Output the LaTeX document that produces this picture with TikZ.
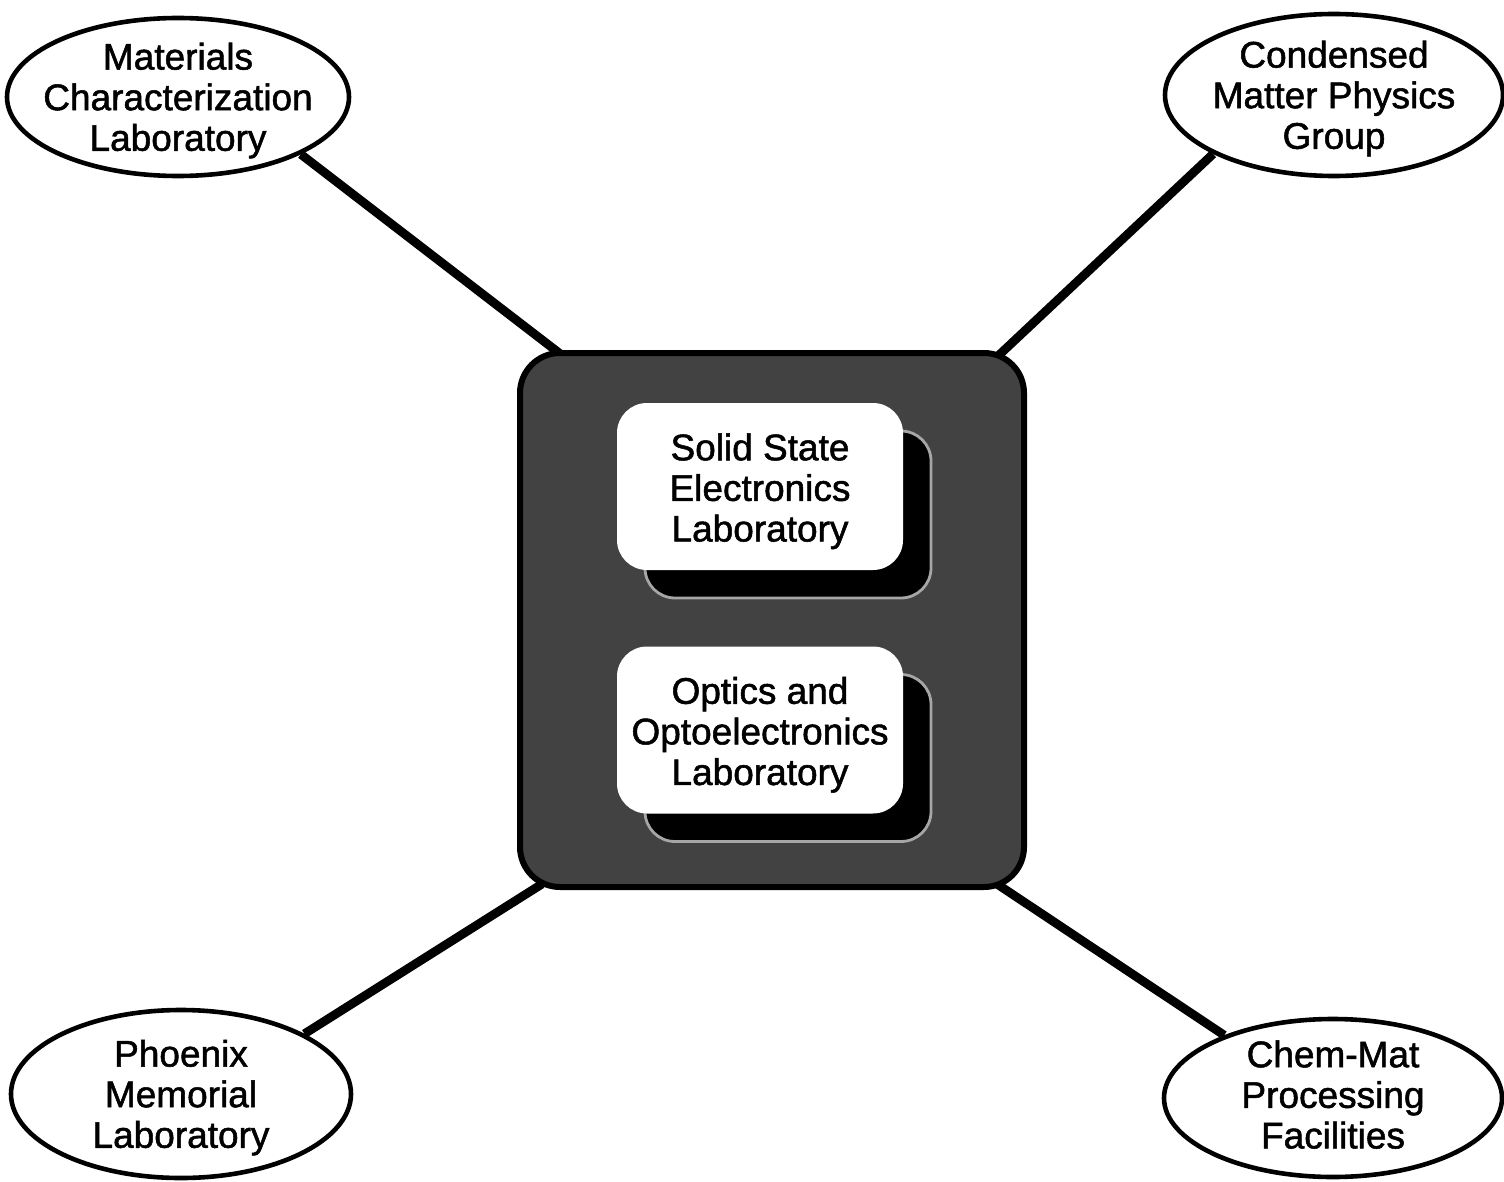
\documentclass[tikz,border=0pt]{standalone}
\usepackage{fontspec}
\setmainfont{Liberation Sans}[FakeBold=1.4]
\usetikzlibrary{shapes.geometric}
\newcommand\labtextfont{\fontsize{18.5}{20.3}\selectfont}
\begin{document}
\begin{tikzpicture}[x=0.5pt,y=-0.5pt,
  lab/.style={ellipse, draw=black, line width=2.3pt, fill=white, inner sep=0pt},
  labtext/.style={align=center, font=\labtextfont, inner sep=0pt, yshift=-1.8pt},
  conn/.style={line width=4.4pt, black},
  hubbox/.style={rectangle, rounded corners=20pt, fill=black!74, draw=black,
                 line width=3pt, minimum width=252pt, minimum height=267pt},
  unitbox/.style={rectangle, rounded corners=15pt, fill=white, inner sep=0pt,
                  minimum width=143pt, minimum height=83.5pt},
  unitshadow/.style={rectangle, rounded corners=15pt, fill=black, draw=black!35,
                     line width=1.4pt, inner sep=0pt,
                     minimum width=143pt, minimum height=83.5pt}]
  \useasboundingbox (0,0) rectangle (1504,1182);

  % outer laboratories
  \node[lab, minimum width=171pt, minimum height=79pt,
        label={[labtext]center:Materials\\Characterization\\Laboratory}] (mcl) at (178,97) {};
  \node[lab, minimum width=169pt, minimum height=81pt,
        label={[labtext]center:Condensed\\Matter Physics\\Group}] (cmp) at (1334,95) {};
  \node[lab, minimum width=170pt, minimum height=84pt,
        label={[labtext]center:Phoenix\\Memorial\\Laboratory}] (pml) at (181,1094) {};
  \node[lab, minimum width=169pt, minimum height=79pt,
        label={[labtext, yshift=3.5pt]center:Chem-Mat\\Processing\\Facilities}] (cmf) at (1333,1098) {};

  % where the spokes meet the central block
  \coordinate (hubTL) at (563,356);
  \coordinate (hubTR) at (998,356);
  \coordinate (hubBL) at (542,884);
  \coordinate (hubBR) at (997,884);

  % spokes
  \draw[conn] (mcl.-25.7) -- (hubTL);
  \draw[conn] (cmp.206.4) -- (hubTR);
  \draw[conn] (pml.26.8) -- (hubBL);
  \draw[conn] (cmf.150.5) -- (hubBR);

  % central block
  \node[hubbox] (hub) at (772,620) {};

  % inner laboratories with their shadows
  \node[unitshadow] (sseShadow) at (788,514.5) {};
  \node[unitbox, label={[labtext, yshift=-0.6pt]center:Solid State\\Electronics\\Laboratory}]
    (sse) at (760,486.5) {};
  \node[unitshadow] (ooeShadow) at (788,758) {};
  \node[unitbox, label={[labtext, yshift=-0.6pt]center:Optics and\\Optoelectronics\\Laboratory}]
    (ooe) at (760,730) {};
\end{tikzpicture}
\end{document}
